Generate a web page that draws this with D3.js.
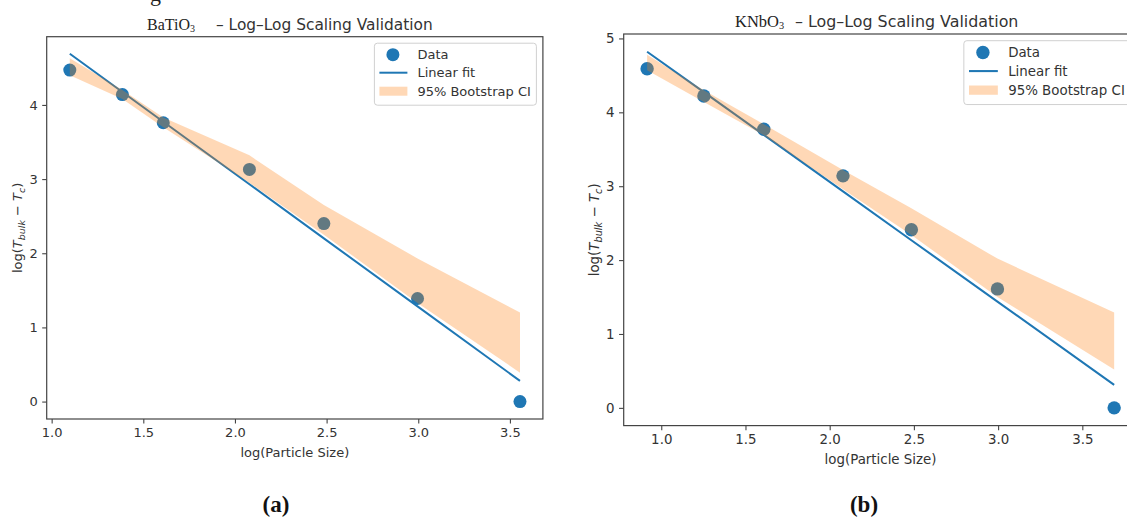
<!DOCTYPE html>
<html lang="en">
<head>
<meta charset="UTF-8">
<title>Log-Log Scaling Validation</title>
<script src="https://d3js.org/d3.v7.min.js"></script>
<style>
    body { margin: 0; background: white; }
    svg { display: block; font-family: "DejaVu Sans", sans-serif; }
    .serif { font-family: "Liberation Serif", "DejaVu Serif", serif; }
</style>
</head>
<body>
<svg width="1127" height="518"></svg>
<script>
// values
const xTicks = [1.0, 1.5, 2.0, 2.5, 3.0, 3.5];
const yTicksA = [0, 1, 2, 3, 4];
const yTicksB = [0, 1, 2, 3, 4, 5];

// (a) BaTiO3
const logSizeA = [1.099, 1.386, 1.609, 2.079, 2.485, 2.996, 3.555];
const logGapA  = [4.47, 4.14, 3.76, 3.13, 2.40, 1.39, 0.00];
const fitA     = [4.690, 4.175, 3.774, 2.930, 2.201, 1.283, 0.279];
const ciHighA  = [4.63, 4.20, 3.83, 3.32, 2.65, 1.93, 1.20];
const ciLowA   = [4.40, 4.08, 3.70, 2.95, 2.25, 1.33, 0.39];

// (b) KNbO3
const logSizeB = [0.916, 1.253, 1.609, 2.079, 2.485, 2.996, 3.689];
const logGapB  = [4.59, 4.22, 3.77, 3.14, 2.41, 1.61, 0.00];
const fitB     = [4.820, 4.273, 3.694, 2.930, 2.269, 1.438, 0.312];
const ciHighB  = [4.78, 4.30, 3.84, 3.22, 2.70, 2.02, 1.29];
const ciLowB   = [4.57, 4.14, 3.69, 2.96, 2.34, 1.50, 0.52];

const legendLabels = ["Data", "Linear fit", "95% Bootstrap CI"];

const blue = "#1f77b4";
const orange = "#ff7f0e";
const svg = d3.select("svg");

function drawPanel(p) {
    const k = p.k;
    const g = svg.append("g");
    const x = d3.scaleLinear().domain(p.xDomain).range(p.xRange);
    const y = d3.scaleLinear().domain(p.yDomain).range(p.yRange);

    // scatter, then fit, then band on top (like the original)
    g.selectAll("circle.pt").data(d3.zip(p.xs, p.ys)).join("circle")
        .attr("class", "pt")
        .attr("cx", d => x(d[0])).attr("cy", d => y(d[1]))
        .attr("r", 6.5 * k).attr("fill", blue);

    const line = d3.line().x(d => x(d[0])).y(d => y(d[1]));
    g.append("path").datum(d3.zip(p.xs, p.fit))
        .attr("d", line).attr("fill", "none")
        .attr("stroke", blue).attr("stroke-width", 2 * k);

    const area = d3.area().x(d => x(d[0])).y0(d => y(d[1])).y1(d => y(d[2]));
    g.append("path").datum(d3.zip(p.xs, p.lo, p.hi))
        .attr("d", area).attr("fill", orange).attr("fill-opacity", 0.3);

    // spines
    g.append("rect")
        .attr("x", p.xRange[0]).attr("y", p.yRange[1])
        .attr("width", p.xRange[1] - p.xRange[0])
        .attr("height", p.yRange[0] - p.yRange[1])
        .attr("fill", "none").attr("stroke", "#444").attr("stroke-width", 1.2);

    const xAxis = g.append("g")
        .attr("transform", `translate(0,${p.yRange[0]})`)
        .call(d3.axisBottom(x).tickValues(xTicks).tickFormat(d3.format(".1f"))
            .tickSize(4.5 * k).tickPadding(4.5 * k));
    const yAxis = g.append("g")
        .attr("transform", `translate(${p.xRange[0]},0)`)
        .call(d3.axisLeft(y).tickValues(p.yTicks).tickFormat(d3.format("d"))
            .tickSize(4.5 * k).tickPadding(4.5 * k));
    [xAxis, yAxis].forEach(a => {
        a.select(".domain").remove();
        a.selectAll(".tick line").attr("stroke", "#444").attr("stroke-width", 1.1);
        a.selectAll(".tick text").style("font-family", "'DejaVu Sans', sans-serif")
            .attr("font-size", 13 * k).attr("fill", "#333");
    });

    g.append("text")
        .attr("x", (p.xRange[0] + p.xRange[1]) / 2).attr("y", p.xLabelY)
        .attr("text-anchor", "middle").attr("font-size", 13 * k).attr("fill", "#333")
        .text("log(Particle Size)");

    // y label with math-style subscripts
    const yl = g.append("text")
        .attr("transform", `translate(${p.yLabelX},${(p.yRange[0] + p.yRange[1]) / 2}) rotate(-90)`)
        .attr("text-anchor", "middle").attr("font-size", 13 * k).attr("fill", "#333");
    yl.append("tspan").text("log(");
    yl.append("tspan").attr("font-style", "italic").text("T");
    yl.append("tspan").attr("font-style", "italic").attr("font-size", 9.5 * k).attr("dy", 3 * k).text("bulk");
    yl.append("tspan").attr("dy", -3 * k).text(" \u2212 ");
    yl.append("tspan").attr("font-style", "italic").text("T");
    yl.append("tspan").attr("font-style", "italic").attr("font-size", 9.5 * k).attr("dy", 3 * k).text("c");
    yl.append("tspan").attr("dy", -3 * k).text(")");

    // title: serif formula + sans text
    const t1 = g.append("text").attr("class", "serif")
        .attr("x", p.formulaX).attr("y", p.titleY)
        .attr("font-size", 16 * k).attr("fill", "#222");
    t1.append("tspan").text(p.formula);
    t1.append("tspan").attr("font-size", 10 * k).attr("dy", 2 * k).text("3");
    g.append("text")
        .attr("x", p.titleX).attr("y", p.titleY)
        .attr("font-size", 15.4 * k).attr("fill", "#333")
        .text("\u2013 Log\u2013Log Scaling Validation");

    // legend, upper right
    const lw = 162 * k, lh = 62 * k;
    const lx = p.xRange[1] - 6.5 * k - lw;
    const ly = p.yRange[1] + 6.5 * k;
    const lg = g.append("g").attr("transform", `translate(${lx},${ly})`);
    lg.append("rect").attr("width", lw).attr("height", lh).attr("rx", 3)
        .attr("fill", "white").attr("fill-opacity", 0.8)
        .attr("stroke", "#d0d0d0").attr("stroke-width", 1);
    const rows = [11.5, 29.5, 48].map(v => v * k);
    lg.append("circle").attr("cx", 18.5 * k).attr("cy", rows[0]).attr("r", 6.5 * k).attr("fill", blue);
    lg.append("line").attr("x1", 5 * k).attr("x2", 33 * k).attr("y1", rows[1]).attr("y2", rows[1])
        .attr("stroke", blue).attr("stroke-width", 2 * k);
    lg.append("rect").attr("x", 5 * k).attr("y", rows[2] - 4.5 * k).attr("width", 28 * k).attr("height", 9 * k)
        .attr("fill", orange).attr("fill-opacity", 0.3);
    lg.selectAll("text.lab").data(legendLabels).join("text")
        .attr("class", "lab")
        .attr("x", 43 * k).attr("y", (d, i) => rows[i]).attr("dy", "0.36em")
        .attr("font-size", 13 * k).attr("fill", "#333").text(d => d);

    g.append("text").attr("class", "serif")
        .attr("x", p.captionX).attr("y", 512)
        .attr("text-anchor", "middle")
        .attr("font-weight", "bold")
        .attr("font-size", 23).attr("fill", "#111")
        .text(p.caption);
}

// clipped descender of the caption line above the figure
svg.append("text").attr("class", "serif").attr("x", 150).attr("y", 0.5)
    .attr("font-size", 22).attr("fill", "#222").text("g");

drawPanel({
    k: 1,
    xs: logSizeA, ys: logGapA, fit: fitA, lo: ciLowA, hi: ciHighA,
    xDomain: [0.973, 3.68], xRange: [46.7, 542.9],
    yDomain: [-0.235, 4.92], yRange: [419, 36.7],
    yTicks: yTicksA,
    formula: "BaTiO", formulaX: 147, titleX: 216, titleY: 30,
    xLabelY: 457, yLabelX: 22,
    caption: "(a)", captionX: 276
});

drawPanel({
    k: 1.03,
    xs: logSizeB, ys: logGapB, fit: fitB, lo: ciLowB, hi: ciHighB,
    xDomain: [0.777, 3.827], xRange: [623.7, 1137.4],
    yDomain: [-0.24, 5.06], yRange: [425.6, 34],
    yTicks: yTicksB,
    formula: "KNbO", formulaX: 735, titleX: 795, titleY: 27,
    xLabelY: 464, yLabelX: 599,
    caption: "(b)", captionX: 864
});
</script>
</body>
</html>
